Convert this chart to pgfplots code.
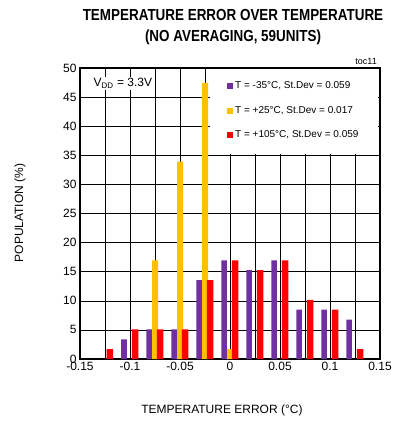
\documentclass[border=0pt]{standalone}
\usepackage{pgfplots}
\pgfplotsset{compat=1.18}
\usepackage{fontspec}
\setmainfont{Liberation Sans}
\newfontfamily\titlefont[FakeStretch=0.84]{Liberation Sans}

\definecolor{cold}{RGB}{112,48,160}
\definecolor{room}{RGB}{255,192,0}
\definecolor{hot}{RGB}{255,0,0}

\pgfplotsset{
  bars/.style={ybar, bar shift=0pt, draw=none, fill=#1,
    legend image code/.code={\fill[#1] (0pt,-3pt) rectangle (6pt,3pt);}},
}

\begin{document}
\begin{tikzpicture}[x=1pt,y=1pt]
\useasboundingbox (-80,-67) rectangle (327,359);
\begin{axis}[
    at={(0,0)}, anchor=south west,
    scale only axis, width=300pt, height=291pt,
    xmin=-0.15, xmax=0.15, ymin=0, ymax=50,
    xtick={-0.15,-0.1,-0.05,0,0.05,0.1,0.15},
    xticklabels={-0.15,-0.1,-0.05,0,0.05,0.1,0.15},
    minor xtick={-0.125,-0.075,-0.025,0.025,0.075,0.125},
    ytick={0,5,...,50},
    grid=both,
    major grid style={black, line width=0.6pt},
    minor grid style={black, line width=0.6pt},
    tick style={draw=none},
    axis line style={line width=1.6pt},
    tick label style={font=\fontsize{12}{14}\selectfont},
    /pgf/number format/assume math mode=true,
    xlabel={TEMPERATURE ERROR (°C)},
    ylabel={POPULATION (\%)},
    label style={font=\fontsize{12}{14}\selectfont},
    xlabel style={at={(axis description cs:0.473,-0.175)}, anchor=center},
    ylabel style={at={(axis description cs:-0.2,0.502)}, anchor=center},
    legend style={at={(rel axis cs:0.49,0.96)}, anchor=north west,
      draw=none, fill=none, font=\fontsize{10}{12}\selectfont,
      row sep=12pt, inner sep=0pt},
    legend cell align=left,
]
% white box behind the legend
\fill[white] (axis cs:-0.02,35.3) rectangle (axis cs:0.148,49.8);

\addplot[bars=cold, bar width=0.0055] coordinates {
  (-0.106,3.39) (-0.081,5.08) (-0.056,5.08) (-0.031,13.56) (-0.006,16.95)
  (0.019,15.25) (0.044,16.95) (0.069,8.47) (0.094,8.47) (0.119,6.78)};
\addlegendentry{T = -35°C, St.Dev = 0.059}

\addplot[bars=room, bar width=0.006] coordinates {
  (-0.075,16.95) (-0.05,33.9) (-0.025,47.46) (0,1.69)};
\addlegendentry{T = +25°C, St.Dev = 0.017}

\addplot[bars=hot, bar width=0.0065] coordinates {
  (-0.12,1.69) (-0.095,5.08) (-0.07,5.08) (-0.045,5.08) (-0.02,13.56)
  (0.005,16.95) (0.03,15.25) (0.055,16.95) (0.08,10.17) (0.105,8.47) (0.13,1.69)};
\addlegendentry{T = +105°C, St.Dev = 0.059}

\node[fill=white, anchor=west, inner sep=1.5pt, font=\fontsize{12}{14}\selectfont]
  at (axis cs:-0.138,47.4) {V\textsubscript{DD} = 3.3V};
\end{axis}
\node[font=\titlefont\bfseries\fontsize{16}{21}\selectfont, align=center]
  at (153,332) {TEMPERATURE ERROR OVER TEMPERATURE\\(NO AVERAGING, 59UNITS)};
\node[font=\fontsize{9}{10}\selectfont, anchor=south east, inner sep=1pt] at (298,293) {toc11};
\end{tikzpicture}
\end{document}
